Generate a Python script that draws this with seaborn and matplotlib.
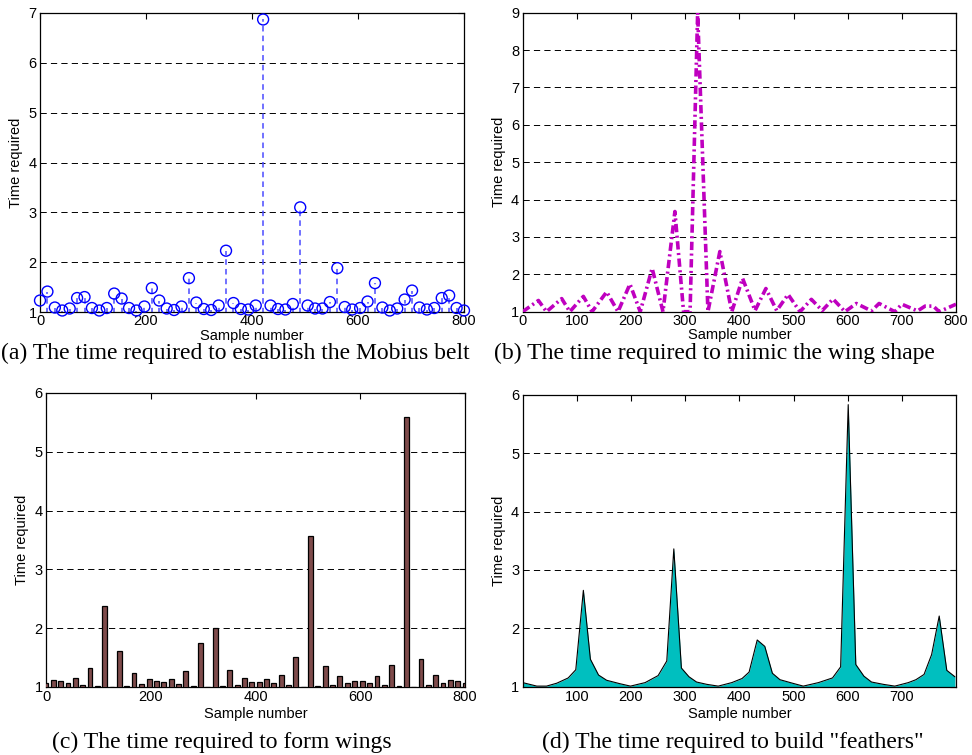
import matplotlib
matplotlib.use("Agg")
import matplotlib.pyplot as plt
import numpy as np
import pandas as pd
import seaborn as sns

# ---------------- data ----------------
sample_grid = [0, 14, 28, 42, 56, 70, 84, 98, 112, 126, 140, 154, 168, 182, 197,
               211, 225, 239, 253, 267, 281, 295, 309, 323, 337, 351, 365, 379,
               393, 407, 421, 435, 449, 463, 477, 491, 505, 519, 533, 547, 561,
               575, 589, 604, 618, 632, 646, 660, 674, 688, 702, 716, 730, 744,
               758, 772, 786, 800]

mobius_time = [1.23, 1.41, 1.09, 1.03, 1.07, 1.28, 1.30, 1.08, 1.03, 1.08,
               1.37, 1.27, 1.08, 1.03, 1.11, 1.48, 1.23, 1.07, 1.04, 1.11,
               1.68, 1.19, 1.06, 1.04, 1.13, 2.23, 1.18, 1.06, 1.05, 1.13,
               6.87, 1.13, 1.06, 1.05, 1.16, 3.10, 1.13, 1.07, 1.07, 1.20,
               1.88, 1.10, 1.05, 1.08, 1.21, 1.58, 1.09, 1.03, 1.07, 1.25,
               1.43, 1.09, 1.05, 1.08, 1.28, 1.33, 1.08, 1.03]

wing_x = [0, 29, 44, 72, 87, 112, 128, 155, 176, 198, 217, 239, 259, 281, 297,
          309, 323, 342, 364, 386, 406, 429, 449, 469, 490, 512, 533, 553, 573,
          595, 616, 644, 658, 687, 700, 729, 743, 758, 769, 800]
wing_time = [1.0, 1.3, 1.0, 1.35, 1.0, 1.41, 1.0, 1.53, 1.0, 1.74, 1.0, 2.16,
             1.0, 3.68, 1.0, 1.0, 9.0, 1.0, 2.61, 1.0, 1.89, 1.03, 1.62, 1.03,
             1.46, 1.0, 1.33, 1.03, 1.34, 1.0, 1.22, 1.02, 1.22, 1.0, 1.2, 1.02,
             1.15, 1.15, 1.0, 1.2]

form_time = [1.06, 1.12, 1.10, 1.06, 1.16, 1.03, 1.32, 1.01, 2.38, 1.00,
             1.62, 1.02, 1.24, 1.05, 1.13, 1.10, 1.08, 1.14, 1.05, 1.27,
             1.02, 1.75, 1.00, 2.00, 1.02, 1.29, 1.03, 1.15, 1.08, 1.09,
             1.13, 1.06, 1.21, 1.03, 1.51, 1.00, 3.57, 1.01, 1.36, 1.03,
             1.18, 1.07, 1.11, 1.11, 1.06, 1.19, 1.03, 1.38, 1.01, 5.60,
             1.00, 1.47, 1.03, 1.20, 1.06, 1.12, 1.10, 1.06]

feather_x = [0, 26, 44, 63, 84, 98, 112, 125, 140, 155, 180, 199, 226, 250, 266,
             279, 293, 307, 321, 340, 361, 386, 405, 418, 433, 447, 461, 475,
             498, 518, 546, 572, 587, 601, 615, 630, 644, 666, 687, 712, 726,
             741, 755, 769, 783, 798]
feather_time = [1.07, 1.01, 1.01, 1.06, 1.15, 1.29, 2.65, 1.47, 1.20, 1.11,
                1.05, 1.01, 1.07, 1.19, 1.44, 3.36, 1.32, 1.17, 1.08, 1.04,
                1.01, 1.07, 1.14, 1.25, 1.80, 1.69, 1.23, 1.12, 1.06, 1.01,
                1.07, 1.15, 1.34, 5.83, 1.38, 1.18, 1.08, 1.04, 1.01, 1.07,
                1.12, 1.21, 1.55, 2.21, 1.28, 1.17]

captions = ['(a) The time required to establish the Mobius belt',
            '(b) The time required to mimic the wing shape',
            '(c) The time required to form wings',
            '(d) The time required to build "feathers"']

# ---------------- style ----------------
sns.set_theme(style="white")
plt.rcParams["font.family"] = ["Liberation Sans", "DejaVu Sans"]
plt.rcParams["lines.scale_dashes"] = False

W, H = 972, 755
fig = plt.figure(figsize=(W / 100, H / 100), dpi=100)


def rect(l, t, r, b):
    return [l / W, 1 - b / H, (r - l) / W, (b - t) / H]


ax_a = fig.add_axes(rect(40, 13, 464, 312))
ax_b = fig.add_axes(rect(522.7, 12.7, 956, 311.7))
ax_c = fig.add_axes(rect(46, 393, 465, 687))
ax_d = fig.add_axes(rect(522.7, 394.7, 956, 686.7))


def style(ax, ylim, xlim, xticks, xpad, tpad):
    ax.set_xlim(*xlim)
    ax.set_ylim(*ylim)
    ax.set_yticks(range(ylim[0], ylim[1] + 1))
    ax.set_xticks(xticks)
    ax.set_xticklabels([str(t) for t in xticks])
    ax.tick_params(direction='in', top=True, right=True, length=4, width=0.8,
                   labelsize=10.5, colors='black', pad=2.5)
    ax.tick_params(axis='x', pad=tpad)
    for s in ax.spines.values():
        s.set_visible(True)
        s.set_color('black')
        s.set_linewidth(0.9)
    ax.yaxis.grid(True, linestyle=(0, (4.5, 3)), color='black', lw=0.7)
    ax.xaxis.grid(False)
    ax.set_axisbelow(True)
    ax.set_ylabel('Time required', fontsize=10.5, labelpad=4, color='black')
    ax.set_xlabel('Sample number', fontsize=10.5, labelpad=xpad, color='black')


# (a) stem plot
ax_a.vlines(sample_grid, 0, mobius_time, colors='#4a4aff', linestyles=(0, (4, 3)),
            lw=1.1, zorder=2)
sns.scatterplot(x=sample_grid, y=mobius_time, marker='o', s=62, color='blue',
                facecolor='none', edgecolor='blue', linewidth=1.0, ax=ax_a,
                clip_on=False, zorder=3, legend=False)
style(ax_a, (1, 7), (0, 800), [0, 200, 400, 600, 800], 0.5, 1.5)

# (b) dash-dot line
sns.lineplot(x=wing_x, y=wing_time, color='#bf00bf', lw=2.6,
             linestyle=(0, (6, 2.5, 1.5, 2.5)), ax=ax_b, zorder=3)
style(ax_b, (1, 9), (0, 800), list(range(0, 801, 100)), 0.5, 1.5)

# (c) bars
sns.barplot(x=sample_grid, y=form_time, native_scale=True, width=0.65,
            color='#7e4b4b', saturation=1, edgecolor='black', linewidth=0.9,
            errorbar=None, ax=ax_c, zorder=3)
style(ax_c, (1, 6), (0, 800), [0, 200, 400, 600, 800], 2, 2.5)

# (d) area
ax_d.fill_between(feather_x, 0, feather_time, color='#00bfbf', lw=0, zorder=2)
sns.lineplot(x=feather_x, y=feather_time, color='black', lw=0.8, ax=ax_d, zorder=3)
style(ax_d, (1, 6), (0, 800), list(range(100, 701, 100)), 2, 2.5)

# captions
cap_kw = dict(fontsize=17, family=['Liberation Serif', 'DejaVu Serif'],
              ha='center', va='center', color='black')
fig.text(235 / W, 1 - 353 / H, captions[0], **cap_kw)
fig.text(714 / W, 1 - 353 / H, captions[1], **cap_kw)
fig.text(222 / W, 1 - 742 / H, captions[2], **cap_kw)
fig.text(733 / W, 1 - 742 / H, captions[3], **cap_kw)

fig.savefig("out.png", dpi=100)
